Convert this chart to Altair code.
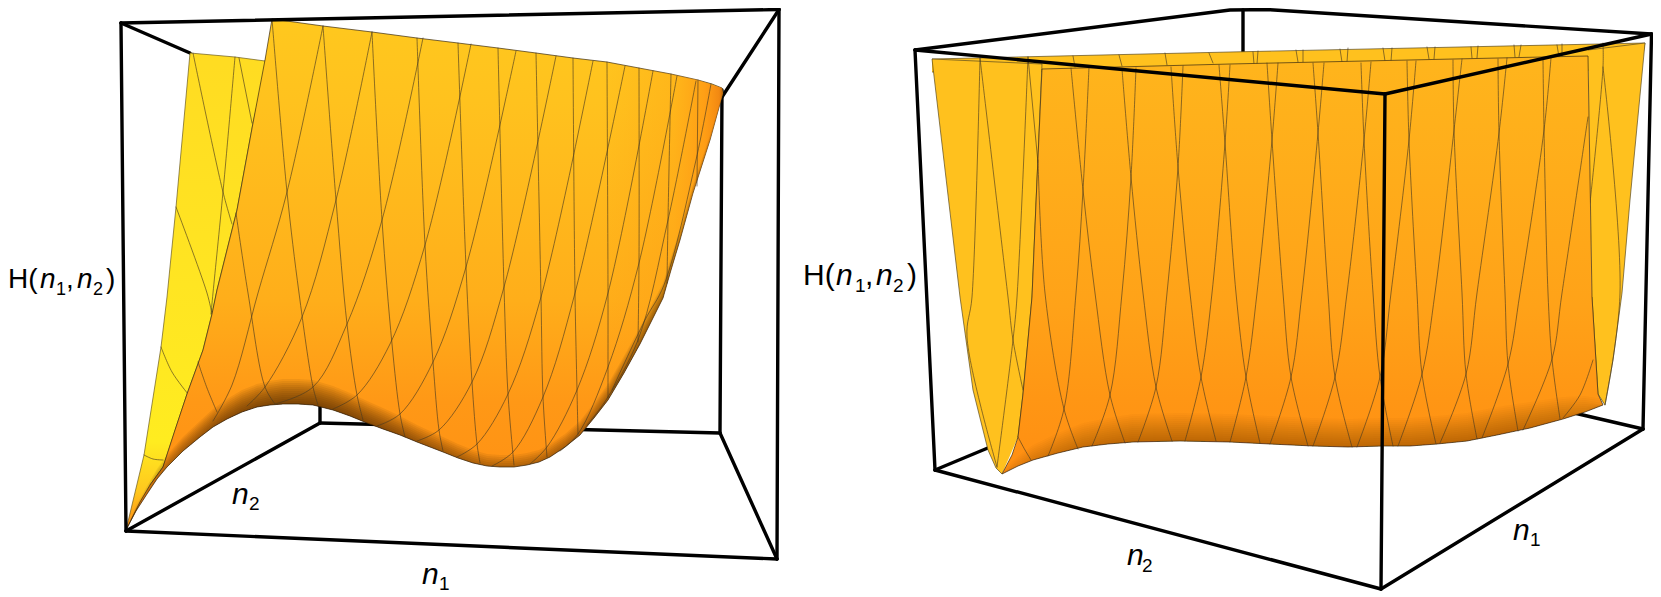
import altair as alt
import pandas as pd

# ---------- left panel: box corners ----------
L_FRONT = [[(121,23),(779,9.5)],[(121,23),(126,531)],[(126,531),(777,559)],[(779,9.5),(777,559)]]
L_BACK = [[(121,23),(190,53)],[(779,9.5),(722,97)],[(126,531),(320,423)],[(777,559),(720,433)],
          [(320,423),(720,433)],[(720,433),(722,90)],[(320,423),(320,400)]]
# ---------- left panel: surface outlines ----------
L_YELLOW = [(126,530),(144,455),(161,347),(167,297),(176,207),(190,53),(235,57),(265,61),(272,40),
            (253,123),(237,210),(217,290),(212,314),(203,350),(187,394),(163,467),(150,485)]
L_EDGE = [(126,530),(140,502),(150,485),(163,467),(175,430),(187,394),(203,350),(212,314),(217,290),(237,210),(253,123),(265,60),(272,19)]
L_TOP = [(272,19),(323,26),(372,32),(417,38),(458,43),(498,48),(536,53),(573,58),(607,62),(639,68),(671,74),(698,80),(712,84),(722,88)]
L_LOWER = [(126,530),(136,511),(147,494),(157,479),(167,467),(183,451),(200,437),(213,427),(227,419),(242,412),
           (257,407),(270,405),(283,404),(298,404),(313,405),(333,410),(350,416),(367,423),(383,429),(400,435),
           (417,442),(430,447),(443,452),(458,458),(473,463),(487,466),(500,467),(514,467),(527,465),(539,462),
           (550,457),(565,447),(580,435),(594,418),(608,400),(624,373),(640,344),(652,320),(663,298),(671,270),
           (680,240),(693,193),(710,140),(723,93)]
L_DEPTH = [0,5,8,10,12,14,16,18,20,22,23,24,25,25,25,24,23,22,21,19,17,16,15,14,13,12,12,12,12,12,13,13,14,15,16,17,17,16,15,13,11,8,5,0]
L_RIGHT_TINT = [(600,61),(639,68),(671,74),(698,80),(722,88),(723,93),(710,140),(693,193),(680,240),(663,298),(640,344),(624,373),(608,400),(600,411)]
# ---------- left panel: mesh lines ----------
L_MESH_A = [
 [(198,362),(207,388),(217,412)],
 [(236,213),(248,293),(265,387),(275,404)],
 [(272,19),(287,192),(299,293),(313,387),(318,405)],
 [(323,26),(336,200),(347,324),(357,395),(363,420)],
 [(372,32),(382,220),(392,344),(400,414),(405,437)],
 [(417,38),(425,245),(433,362),(439,430),(443,451)],
 [(458,43),(466,267),(472,382),(477,444),(480,463)],
 [(498,48),(504,287),(508,394),(514,465)],
 [(536,53),(541,297),(543,397),(547,457)],
 [(573,58),(575,293),(577,390),(578,434)],
 [(607,62),(608,293),(608,367),(608,398)],
 [(639,68),(639,263),(638,342)],
 [(671,74),(668,220),(667,283)],
 [(698,80),(697,186)],
]
L_MESH_B = [
 [(323,26),(287,192),(258,293),(232,385),(213,421)],
 [(372,32),(336,200),(302,317),(265,387),(247,406)],
 [(423,38),(382,220),(347,324),(313,387),(275,404)],
 [(471,44),(425,245),(390,344),(357,395),(333,409)],
 [(516,51),(466,267),(433,362),(400,414),(377,426)],
 [(556,56),(504,287),(472,382),(439,430),(417,441)],
 [(593,61),(541,297),(508,394),(477,444),(457,457)],
 [(625,66),(575,293),(543,397),(513,452),(492,466)],
 [(653,71),(608,293),(577,390),(547,447),(530,464)],
 [(677,76),(639,263),(608,367),(578,434),(560,451)],
 [(696,81),(668,220),(638,340),(606,400),(587,425)],
 [(711,84),(696,160),(664,285),(645,320),(612,390)],
]
L_MESH_Y = [
 [(193,53),(223,192),(232,224)],
 [(235,57),(223,192),(213,293),(211,314)],
 [(239,58),(252,123)],
 [(176,207),(207,293),(212,314)],
 [(161,347),(172,372),(188,394)],
 [(144,455),(153,459),(163,460)],
]

# ---------- right panel: box corners ----------
R_FRONT = [[(915,50),(1385,94)],[(1385,94),(1651.5,34)],[(1385,94),(1381,589)],[(935,470),(1381,589)],[(1381,589),(1643,429)],
           [(915,50),(935,470)],[(1651.5,34),(1643,429)]]
R_BACK = [[(915,50),(1230,10),(1267,9.5),(1651.5,34)],[(1243,10),(1243,52)],[(935,470),(995,445)],[(1643,429),(1570,412)]]
# ---------- right panel: surface outlines ----------
R_SHEET_L = [(1002,474),(996,468),(988,450),(973,390),(960,297),(932,59),(1042,64),(1032,297),(1023,394),(1018,437)]
R_SHEET_R = [(1588,50),(1645,43),(1630,200),(1622,293),(1613,360),(1605,405),(1598,394),(1592,297)]
R_TOP_BACK = [(932,59),(1230,52),(1645,43),(1640,70),(932,72)]
R_FRONT_EDGE = [(1002,474),(1012,455),(1018,437),(1023,394),(1032,297),(1037,180),(1042,69),(1230,64),(1588,56),(1592,297),(1598,394),(1603,405)]
R_LOWER = [(1002,474),(1018,466),(1033,460),(1058,453),(1083,447),(1108,444),(1133,442),(1180,441),(1230,442),(1270,444),(1313,446),(1348,447),
           (1383,446),(1410,446),(1437,444),(1467,441),(1497,435),(1530,428),(1563,419),(1585,412),(1603,405)]
R_DEPTH = [3,10,15,20,24,26,28,28,28,28,28,28,28,28,28,28,28,26,22,16,6]
# ---------- right panel: mesh lines ----------
R_MESH_FRONT = [
 [(1018,437),(1025,450),(1031,460)],
 [(1038,160),(1045,293),(1064,409),(1078,449)],
 [(1089,67),(1083,190),(1076,293),(1064,409),(1048,456)],
 [(1071,68),(1083,190),(1095,293),(1110,395),(1125,443)],
 [(1136,68),(1131,177),(1122,293),(1110,395),(1092,446)],
 [(1122,69),(1131,177),(1143,293),(1156,387),(1172,441)],
 [(1183,66),(1178,167),(1167,293),(1156,387),(1138,442)],
 [(1171,67),(1178,167),(1190,293),(1201,377),(1216,441)],
 [(1230,65),(1225,143),(1212,293),(1201,377),(1185,441)],
 [(1219,65),(1225,143),(1236,293),(1246,377),(1260,443)],
 [(1278,63),(1272,140),(1257,293),(1246,377),(1230,442)],
 [(1267,63),(1272,140),(1283,293),(1291,377),(1308,446)],
 [(1324,63),(1318,133),(1302,293),(1291,377),(1270,444)],
 [(1313,63),(1318,133),(1328,293),(1335,377),(1352,447)],
 [(1371,62),(1364,140),(1347,293),(1335,377),(1313,446)],
 [(1361,63),(1364,140),(1373,293),(1380,377),(1393,446)],
 [(1416,61),(1409,140),(1391,293),(1380,377),(1357,447)],
 [(1407,61),(1409,140),(1417,293),(1422,374),(1436,444)],
 [(1462,59),(1454,130),(1435,293),(1422,374),(1398,446)],
 [(1453,60),(1454,130),(1462,293),(1466,374),(1477,439)],
 [(1507,58),(1499,133),(1477,293),(1466,374),(1440,443)],
 [(1498,59),(1499,133),(1505,293),(1508,364),(1518,431)],
 [(1551,58),(1544,130),(1520,293),(1508,364),(1482,438)],
 [(1543,59),(1544,130),(1548,293),(1552,359),(1560,419)],
 [(1588,117),(1562,293),(1552,359),(1523,430)],
 [(1593,360),(1580,395),(1563,418)],
]
R_MESH_BACK_LEFT = [
 [(980,58),(972,297),(967,337),(997,467)],
 [(980,58),(1008,297),(1013,340),(1023,390)],
 [(1028,57),(1017,297),(1013,340),(997,467)],
 [(1028,57),(1038,163)],
]
R_MESH_BACK_RIGHT = [
 [(1603,43),(1603,67),(1590,203)],
 [(1603,67),(1620,293),(1605,405)],
]
R_BACK_STUBS = [
 (1073,56,1075,67),(1119,55,1122,66),(1165,53,1167,65),(1209,53,1213,63),(1253,52,1254,64),(1258,51,1257,64),
 (1296,50,1298,62),(1303,50,1303,62),(1340,49,1342,62),(1348,48,1347,62),(1383,48,1385,61),(1392,48,1391,61),
 (1427,47,1429,59),(1435,47,1434,59),(1471,47,1472,58),(1478,46,1477,58),(1514,45,1515,57),(1521,45,1519,57),
 (1557,45,1559,57),(1562,44,1562,57),
]

# ---------- labels ----------
UPRIGHT_L = [(8,288,"H("),(66,288,","),(106,288,")")]
ITALIC_L = [(40,288,"n"),(77,288,"n")]
SUBS_L = [(56,295,"1"),(93,295,"2")]
UPRIGHT = [(803,285,"H("),(865,285,","),(907,285,")")]
ITALIC = [(232,504,"n"),(422,584,"n"),(836,285,"n"),(876,285,"n"),(1127,565,"n"),(1513,540,"n")]
SUBS = [(249,510,"2"),(439,590,"1"),(855,292,"1"),(893,292,"2"),(1142,572,"2"),(1530,546,"1")]

FONT = "Liberation Sans"
sx = alt.Scale(domain=[8, 1653], nice=False, zero=False)
sy = alt.Scale(domain=[597, 8], nice=False, zero=False)
X = alt.X("x:Q", scale=sx, axis=None)
Y = alt.Y("y:Q", scale=sy, axis=None)
Y2 = alt.Y2("y2:Q")


def df_of(points):
    return pd.DataFrame({"i": range(len(points)), "x": [p[0] for p in points], "y": [p[1] for p in points]})


def path(points, color="black", width=3.4, interp="linear", opacity=1.0):
    return alt.Chart(df_of(points)).mark_line(
        color=color, strokeWidth=width, interpolate=interp, opacity=opacity,
        strokeCap="round", strokeJoin="miter",
    ).encode(x=X, y=Y, order=alt.Order("i:Q"))


def poly(points, fill, stroke="transparent", width=0.0):
    return alt.Chart(df_of(points)).mark_line(
        fill=fill, stroke=stroke, strokeWidth=width, strokeJoin="round",
    ).encode(x=X, y=Y, order=alt.Order("i:Q"))


def grad(stops, x1=0, y1=0, x2=0, y2=1):
    return alt.LinearGradient(
        gradient="linear", x1=x1, y1=y1, x2=x2, y2=y2,
        stops=[alt.GradientStop(offset=o, color=c) for o, c in stops],
    )


def shade(lower, depth, levels, color="#3a2000", alpha=0.07):
    out = []
    for t in levels:
        d = pd.DataFrame({
            "x": [p[0] for p in lower],
            "y": [p[1] for p in lower],
            "y2": [p[1] - max(0, q - t) for p, q in zip(lower, depth)],
        })
        out.append(alt.Chart(d).mark_area(color=color, opacity=alpha).encode(x=X, y=Y, y2=Y2))
    return out


def texts(rows, size, style="normal"):
    d = pd.DataFrame(rows, columns=["x", "y", "t"])
    return alt.Chart(d).mark_text(
        font=FONT, fontSize=size, fontStyle=style, align="left", baseline="alphabetic", color="black",
    ).encode(x=X, y=Y, text="t:N")


layers = []
MESH = "#4a3a20"
# left: back of the box
layers += [path(s) for s in L_BACK]
# left: yellow sheet
layers.append(poly(L_YELLOW, grad([(0, "#FFDB22"), (0.5, "#FFE522"), (0.82, "#FFEC20"), (0.92, "#FFC81E"), (1, "#FF8A12")]), "#6a5a20", 0.7))
layers += [path(s, MESH, 0.8, "catmull-rom", 0.8) for s in L_MESH_Y]
# left: orange sheet
layers.append(poly(L_EDGE + L_TOP + L_LOWER[::-1], grad([(0, "#FFC81E"), (0.16, "#FFC21E"), (0.55, "#FFAE1A"), (0.75, "#FF9816"), (1, "#FF8E12")]), "#3a2a10", 0.7))
layers.append(poly(L_RIGHT_TINT, grad([(0, "#FF900F00"), (0.6, "#FF900F40"), (0.85, "#FF8A10A0"), (0.97, "#F08010E0"), (1, "#B0620C")], 0, 0, 1, 0)))
layers += shade(L_LOWER, L_DEPTH, [0, 2, 4, 6, 8, 10, 12, 14, 16, 18, 20, 22, 24], alpha=0.075)
layers += [path(s, MESH, 0.8, "catmull-rom", 0.8) for s in L_MESH_A + L_MESH_B]
# right: back of the box
layers += [path(s) for s in R_BACK]
# right: back sheet
layers.append(poly(R_TOP_BACK, "#FFC11E", "#5a4a20", 0.7))
layers += [path([(a, b), (c, d)], MESH, 0.8, "linear", 0.8) for a, b, c, d in R_BACK_STUBS]
layers.append(poly(R_SHEET_L, "#FFC11E", "#5a4a20", 0.7))
layers.append(poly(R_SHEET_R, "#FFC11E", "#5a4a20", 0.7))
layers += [path(s, MESH, 0.8, "catmull-rom", 0.8) for s in R_MESH_BACK_LEFT + R_MESH_BACK_RIGHT]
# right: front sheet
layers.append(poly(R_FRONT_EDGE + R_LOWER[::-1], grad([(0, "#FFB51C"), (0.3, "#FFAC1A"), (0.6, "#FFA218"), (0.82, "#FF9614"), (1, "#FF8E12")]), "#3a2a10", 0.7))
layers += shade(R_LOWER, R_DEPTH, [0, 2, 4, 6, 8, 10, 12, 14, 16, 18, 20, 22, 24, 26], alpha=0.027)
layers += [path(s, MESH, 0.8, "catmull-rom", 0.8) for s in R_MESH_FRONT]
# front of both boxes
layers += [path(s) for s in L_FRONT + R_FRONT]
# labels
layers += [texts(UPRIGHT_L, 28), texts(ITALIC_L, 28, "italic"), texts(SUBS_L, 18)]
layers += [texts(UPRIGHT, 30), texts(ITALIC, 30, "italic"), texts(SUBS, 19)]

chart = alt.layer(*layers).properties(
    width=1645, height=589, padding=0, autosize=alt.AutoSizeParams(type="none"),
).configure_view(stroke=None)

chart.save("out.html", embed_options={"renderer": "svg", "actions": False})
